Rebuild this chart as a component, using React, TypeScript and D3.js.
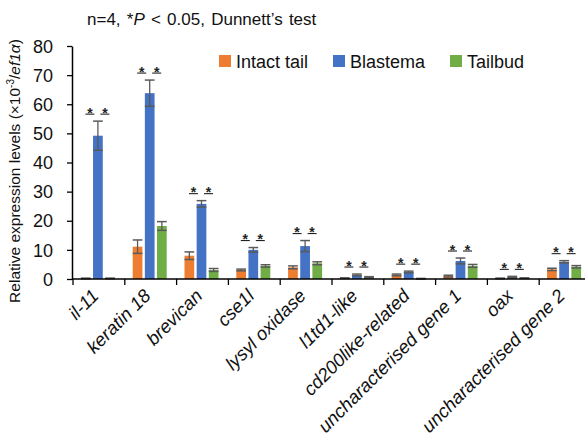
import React, { useEffect, useRef } from 'react';
import * as d3 from 'd3';

const genes = ['il-11', 'keratin 18', 'brevican', 'cse1l', 'lysyl oxidase', 'l1td1-like', 'cd200like-related', 'uncharacterised gene 1', 'oax', 'uncharacterised gene 2'];
const seriesNames = ['Intact tail', 'Blastema', 'Tailbud'];
const colors = ['#ED7D31', '#4472C4', '#70AD47'];

const intactMean = [0.2, 11.1, 8.0, 3.1, 4.0, 0.3, 1.4, 1.0, 0.2, 3.3];
const intactErr = [0.1, 2.3, 1.3, 0.3, 0.5, 0.1, 0.3, 0.3, 0.1, 0.4];
const blastemaMean = [49.2, 63.8, 25.8, 10.0, 11.3, 1.4, 2.4, 6.2, 0.7, 5.9];
const blastemaErr = [5.0, 4.5, 1.1, 0.8, 1.9, 0.3, 0.3, 1.0, 0.2, 0.4];
const tailbudMean = [0.2, 18.2, 3.1, 4.5, 5.4, 0.6, 0.1, 4.5, 0.3, 4.2];
const tailbudErr = [0.1, 1.5, 0.5, 0.4, 0.5, 0.2, 0.1, 0.5, 0.1, 0.4];

const yTicks = [0, 10, 20, 30, 40, 50, 60, 70, 80];

const font = '"Liberation Sans", Arial, sans-serif';

export default function App() {
  const ref = useRef<SVGSVGElement>(null);

  useEffect(() => {
    const svg = d3.select(ref.current);
    svg.selectAll('*').remove();

    const x = d3.scaleBand().domain(genes).range([72, 590]);
    const y = d3.scaleLinear().domain([0, 80]).range([279, 46]);
    const sub = d3.scaleBand().domain(seriesNames).range([-17, 17]).paddingInner(0.2);

    const means = [intactMean, blastemaMean, tailbudMean];
    const errs = [intactErr, blastemaErr, tailbudErr];

    // title
    const title = svg.append('text').attr('x', 87).attr('y', 25)
      .attr('font-family', font).attr('font-size', 17).attr('word-spacing', 1.5).attr('fill', '#111');
    title.append('tspan').text('n=4, *');
    title.append('tspan').attr('font-style', 'italic').text('P');
    title.append('tspan').text(' < 0.05, Dunnett\u2019s  test');

    // bars
    genes.forEach((g, i) => {
      const cx = x(g)! + x.bandwidth() / 2;
      seriesNames.forEach((s, j) => {
        const v = means[j][i];
        const e = errs[j][i];
        const bx = cx + sub(s)!;
        const bw = sub.bandwidth();
        svg.append('rect')
          .attr('x', bx).attr('y', y(v))
          .attr('width', bw).attr('height', y(0) - y(v))
          .attr('fill', colors[j]);
        const ec = '#5a5a5a';
        svg.append('line').attr('x1', bx + bw / 2).attr('x2', bx + bw / 2)
          .attr('y1', y(v - e)).attr('y2', y(v + e)).attr('stroke', ec).attr('stroke-width', 1.3);
        [v - e, v + e].forEach(t => {
          svg.append('line').attr('x1', bx).attr('x2', bx + bw)
            .attr('y1', y(t)).attr('y2', y(t)).attr('stroke', ec).attr('stroke-width', 1.5);
        });
      });
      // significance marks
      const top = y(blastemaMean[i] + blastemaErr[i]) - 7;
      [-8, 7].forEach(off => {
        svg.append('line').attr('x1', cx + off - 4.5).attr('x2', cx + off + 4.5)
          .attr('y1', top).attr('y2', top).attr('stroke', '#222').attr('stroke-width', 1.1);
        svg.append('text').attr('x', cx + off).attr('y', top + 3.5)
          .attr('text-anchor', 'middle').attr('font-family', font)
          .attr('font-size', 14).attr('font-weight', 'bold').attr('fill', '#222').text('*');
      });
    });

    // y axis
    const yAxis = svg.append('g').attr('transform', 'translate(72,0)')
      .call(d3.axisLeft(y).tickValues(yTicks).tickSize(5).tickSizeOuter(0));
    yAxis.select('.domain').attr('stroke', '#000').attr('stroke-width', 1.5);
    yAxis.selectAll('.tick line').attr('stroke', '#000').attr('stroke-width', 1.3);
    yAxis.selectAll('.tick text').attr('font-family', font).attr('font-size', 18)
      .attr('fill', '#111').attr('x', -19).attr('dy', '0.34em');

    // x axis
    const xa = svg.append('g').attr('transform', 'translate(0,279)');
    xa.append('line').attr('x1', 72).attr('x2', 590).attr('stroke', '#000').attr('stroke-width', 1.5);
    genes.forEach(g => {
      const tx = x(g)! + 1;
      xa.append('line').attr('x1', tx).attr('x2', tx).attr('y1', 0).attr('y2', 6)
        .attr('stroke', '#000').attr('stroke-width', 1.3);
      const cx = x(g)! + x.bandwidth() / 2 + 2;
      xa.append('text').attr('transform', `translate(${cx},18) rotate(-45)`)
        .attr('text-anchor', 'end').attr('font-family', font).attr('font-size', 18.5)
        .attr('font-style', 'italic').attr('fill', '#111').text(g);
    });

    // y label
    const yl = svg.append('text').attr('transform', 'translate(20,171) rotate(-90)')
      .attr('text-anchor', 'middle').attr('font-family', font).attr('font-size', 15.5).attr('fill', '#111');
    yl.append('tspan').text('Relative expression levels (\u00d710');
    yl.append('tspan').attr('font-size', 10).attr('dy', -6).text('-3');
    yl.append('tspan').attr('dy', 6).text('/');
    yl.append('tspan').attr('font-style', 'italic').text('ef1\u03b1');
    yl.append('tspan').text(')');

    // legend
    const lx = [219, 333, 450];
    seriesNames.forEach((s, j) => {
      svg.append('rect').attr('x', lx[j]).attr('y', 55).attr('width', 12).attr('height', 12).attr('fill', colors[j]);
      svg.append('text').attr('x', lx[j] + 17).attr('y', 68).attr('font-family', font)
        .attr('font-size', 18).attr('fill', '#111').text(s);
    });
  }, []);

  return (
    <svg ref={ref} width={585} height={448}
      style={{ position: 'absolute', left: 0, top: 0, background: '#fff' }} />
  );
}
